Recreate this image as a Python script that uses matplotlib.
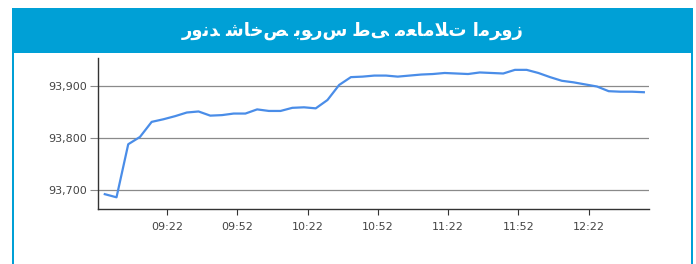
import matplotlib
matplotlib.use("Agg")
import matplotlib.pyplot as plt
from matplotlib.patches import Rectangle
from matplotlib.ticker import FuncFormatter, FixedLocator

# ---- data ----
times = ["08:55:30", "09:00:30", "09:05:30", "09:10:30", "09:15:30", "09:20:30",
         "09:25:30", "09:30:30", "09:35:30", "09:40:30", "09:45:30", "09:50:30",
         "09:55:30", "10:00:30", "10:05:30", "10:10:30", "10:15:30", "10:20:30",
         "10:25:30", "10:30:30", "10:35:30", "10:40:30", "10:45:30", "10:50:30",
         "10:55:30", "11:00:30", "11:05:30", "11:10:30", "11:15:30", "11:20:30",
         "11:25:30", "11:30:30", "11:35:30", "11:40:30", "11:45:30", "11:50:30",
         "11:55:30", "12:00:30", "12:05:30", "12:10:30", "12:15:30", "12:20:30",
         "12:25:30", "12:30:30", "12:35:30", "12:40:30", "12:45:30"]
values = [93692, 93686, 93788, 93802, 93831, 93836, 93842, 93849, 93851, 93843,
          93844, 93847, 93847, 93855, 93852, 93852, 93858, 93859, 93857, 93873,
          93902, 93917, 93918, 93920, 93920, 93918, 93920, 93922, 93923, 93925,
          93924, 93923, 93926, 93925, 93924, 93931, 93931, 93925, 93917, 93910,
          93907, 93903, 93899, 93890, 93889, 93889, 93888]
x_tick_labels = ["09:22", "09:52", "10:22", "10:52", "11:22", "11:52", "12:22"]
y_ticks = [93700, 93800, 93900]
title = "روند شاخص بورس طی معاملات امروز"
# the same title written with Arabic presentation forms (logical order),
# so the joined letter shapes show without a shaping engine
title_shaped = ("\uFEAD\uFEED\uFEE7\uFEAA" + " " +
                "\uFEB7\uFE8E\uFEA7\uFEBA" + " " +
                "\uFE91\uFEEE\uFEAD\uFEB1" + " " +
                "\uFEC3\uFEF0" + " " +
                "\uFEE3\uFECC\uFE8E\uFEE3\uFEFC\uFE95" + " " +
                "\uFE8D\uFEE3\uFEAE\uFEED\uFEAF")


def to_min(s):
    parts = [int(p) for p in s.split(":")]
    m = parts[0] * 60 + parts[1]
    if len(parts) > 2:
        m += parts[2] / 60.0
    return m


xs = [to_min(t) for t in times]
xticks = [to_min(t) for t in x_tick_labels]

W, H = 696, 264
fig = plt.figure(figsize=(W / 100, H / 100), dpi=100)
fig.patch.set_facecolor("white")

blue = "#00a0d6"
# frame & header
fig.add_artist(Rectangle((12 / W, 0), 2 / W, 1 - 8 / H, transform=fig.transFigure,
                         facecolor=blue, edgecolor="none"))
fig.add_artist(Rectangle((691 / W, 0), 2 / W, 1 - 8 / H, transform=fig.transFigure,
                         facecolor=blue, edgecolor="none"))
fig.add_artist(Rectangle((12 / W, 1 - 53 / H), (693 - 12) / W, 45 / H,
                         transform=fig.transFigure, facecolor=blue, edgecolor="none"))
fig.text((12 + 693) / 2 / W, 1 - 31 / H, title_shaped, color="white",
         fontsize=13, fontweight="bold", ha="center", va="center",
         family=["DejaVu Sans"])

ax = fig.add_axes([98 / W, 1 - 209 / H, (649 - 98) / W, (209 - 58) / H])
ax.plot(xs, values, color="#4a8de8", lw=1.6, solid_joinstyle="round")

ax.set_xlim(to_min("08:52:36"), to_min("12:47:42"))
ax.set_ylim(93663.5, 93953.8)

ax.xaxis.set_major_locator(FixedLocator(xticks))
ax.set_xticklabels(x_tick_labels)
ax.set_yticks(y_ticks)
ax.yaxis.set_major_formatter(FuncFormatter(lambda v, p: f"{int(v):,}"))

for s in ["top", "right"]:
    ax.spines[s].set_visible(False)
ax.spines["left"].set_color("#333333")
ax.spines["bottom"].set_color("#333333")
ax.spines["left"].set_linewidth(1)
ax.spines["bottom"].set_linewidth(1)

ax.grid(axis="y", color="#8a8a8a", lw=0.9)
ax.tick_params(axis="y", length=6, color="#8a8a8a", labelsize=8, labelcolor="#444444", pad=2)
ax.tick_params(axis="x", length=4, color="#333333", labelsize=8, labelcolor="#444444", pad=5)

fig.savefig("out.png", dpi=100)
